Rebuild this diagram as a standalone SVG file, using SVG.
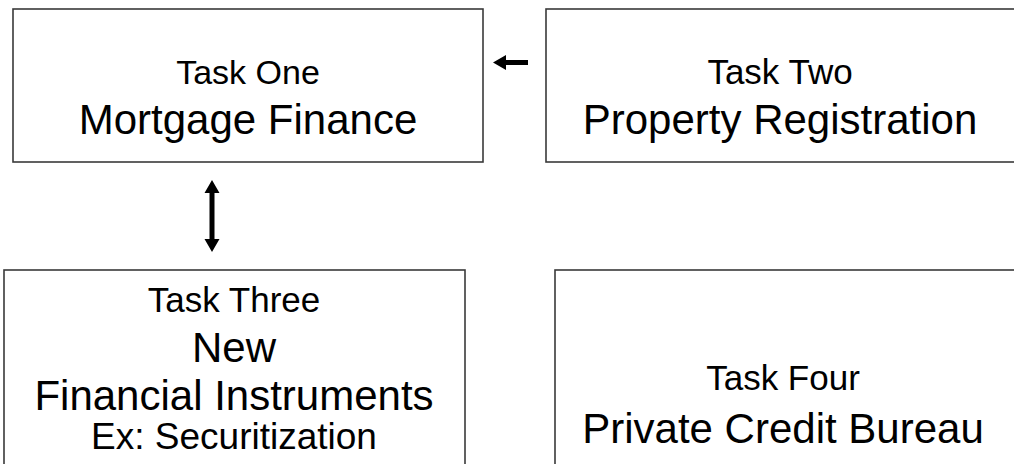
<svg xmlns="http://www.w3.org/2000/svg" width="1014" height="464" viewBox="0 0 1014 464">
  <style>
    .box { fill: #ffffff; stroke: #3a3a3a; stroke-width: 1.6; }
    .lbl { font-family: "Liberation Sans", Arial, sans-serif; fill: #000000; text-anchor: middle; }
    .sm { font-size: 34px; }
    .md { font-size: 35px; }
    .ex { font-size: 37px; }
    .lg { font-size: 42px; }
    .arrow { fill: #000000; }
  </style>
  <rect width="1014" height="464" fill="#ffffff"/>

  <g id="task-one">
    <rect class="box" x="13" y="9" width="470" height="153"/>
    <text class="lbl sm" x="248" y="84">Task One</text>
    <text class="lbl lg" x="248" y="134">Mortgage Finance</text>
  </g>

  <g id="task-two">
    <rect class="box" x="546" y="9" width="480" height="153"/>
    <text class="lbl md" x="780" y="84">Task Two</text>
    <text class="lbl lg" x="780" y="134">Property Registration</text>
  </g>

  <g id="task-three">
    <rect class="box" x="4" y="270" width="461" height="210"/>
    <text class="lbl md" x="234" y="312">Task Three</text>
    <text class="lbl lg" x="234" y="362">New</text>
    <text class="lbl lg" x="234" y="410">Financial Instruments</text>
    <text class="lbl ex" x="234" y="449">Ex: Securitization</text>
  </g>

  <g id="task-four">
    <rect class="box" x="555" y="270" width="470" height="210"/>
    <text class="lbl md" x="783" y="390">Task Four</text>
    <text class="lbl lg" x="783" y="443">Private Credit Bureau</text>
  </g>

  <g id="connectors">
    <!-- Task Two feeds Task One -->
    <polygon class="arrow" points="528,60 506,60 506,55 493,62.5 506,70 506,65 528,65"/>
    <!-- two-way link between Task One and Task Three -->
    <polygon class="arrow" points="212,180 219.5,193 214.5,193 214.5,239 219.5,239 212,252 204.5,239 209.5,239 209.5,193 204.5,193"/>
  </g>
</svg>
